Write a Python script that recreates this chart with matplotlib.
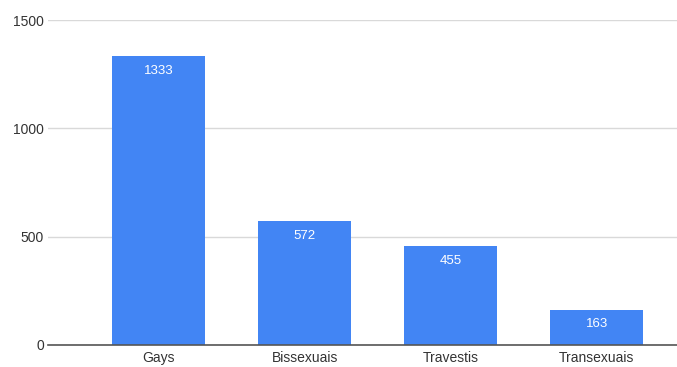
import matplotlib
matplotlib.use("Agg")
import matplotlib.pyplot as plt

categories = ["Gays", "Bissexuais", "Travestis", "Transexuais"]
values = [1333, 572, 455, 163]
y_ticks = [0, 500, 1000, 1500]

plt.rcParams["font.family"] = ["Liberation Sans", "DejaVu Sans"]

fig = plt.figure(figsize=(6.77, 3.67), dpi=100)
ax = fig.add_axes([0.0709, 0.06, 0.9291, 0.8855])

x = range(len(categories))
bars = ax.bar(x, values, width=0.64, color="#4285F4", zorder=3)

for b, v in zip(bars, values):
    ax.annotate(str(v), (b.get_x() + b.get_width() / 2, v),
                xytext=(0, -10.5), textcoords="offset points",
                ha="center", va="center", color="white", fontsize=9.5, zorder=4)

ax.set_xlim(-0.757, 3.55)
ax.set_ylim(0, 1500)
ax.set_yticks(y_ticks)
ax.set_xticks(list(x))
ax.set_xticklabels(categories)
ax.tick_params(axis="both", length=0, labelsize=10, colors="#333333")
ax.tick_params(axis="y", pad=3)
ax.tick_params(axis="x", pad=4)
ax.grid(axis="y", color="#d9d9d9", linewidth=1, zorder=0)
for s in ["top", "right", "left"]:
    ax.spines[s].set_visible(False)
ax.spines["bottom"].set_color("#555555")
ax.spines["bottom"].set_linewidth(1.2)
ax.spines["bottom"].set_zorder(5)

fig.savefig("out.png", dpi=100)
